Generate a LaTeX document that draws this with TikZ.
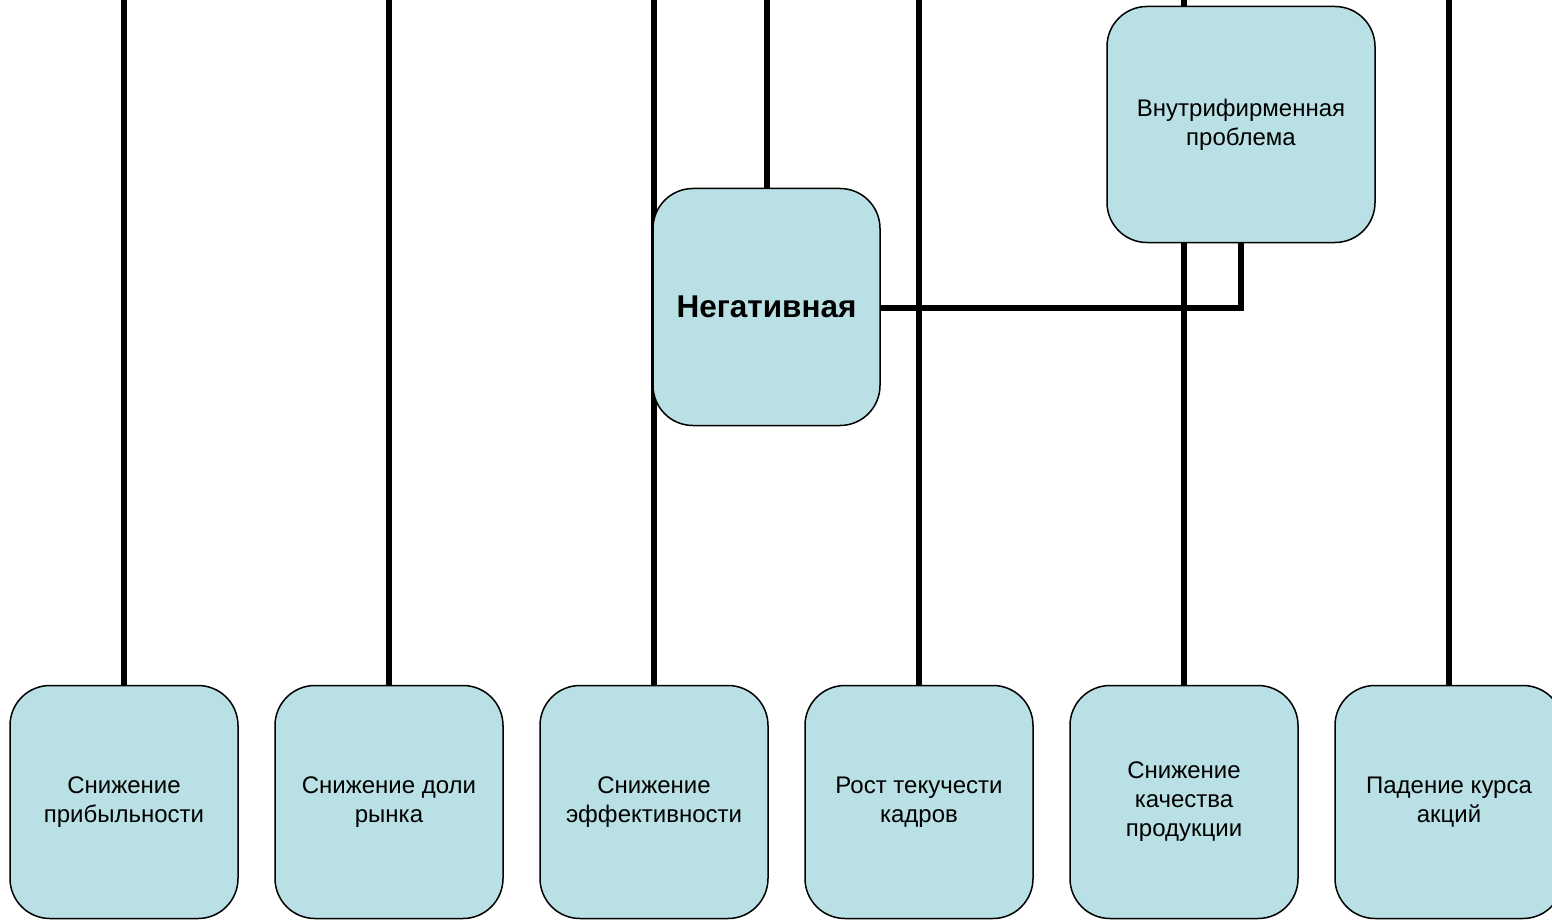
\documentclass[tikz,border=0pt]{standalone}
\usepackage{fontspec}
\setmainfont{Liberation Sans}
\usetikzlibrary{calc}
\usetikzlibrary{positioning}
\pgfdeclarelayer{bg}
\pgfsetlayers{bg,main}
\definecolor{boxfill}{RGB}{185,224,228}

\tikzset{
  rbox/.style = {
    draw, line width=1.5pt, fill=boxfill, rounded corners=40pt,
    align=center, inner sep=0pt, outer sep=0pt,
    font=\fontsize{24}{29}\selectfont,
  },
  effect/.style = {rbox, minimum width=228pt, minimum height=233pt},
  wire/.style = {line width=6pt},
}

\begin{document}
\begin{tikzpicture}[x=1pt, y=-1pt]
        \useasboundingbox (0,0) rectangle (1552,920);

        % the two problem boxes
        \node[rbox, minimum width=227pt, minimum height=237pt,
              font=\fontsize{31.5}{36}\selectfont\bfseries]
          (neg) at (766.5,307) {Негативная};
        \node[rbox, minimum width=268pt, minimum height=236pt]
          (int) at (1241,124.5) {Внутрифирменная\\проблема};

        % the consequences
        \node[effect] (b1) at (124,802)  {Снижение\\прибыльности};
        \node[effect] (b2) at (389,802)  {Снижение доли\\рынка};
        \node[effect] (b3) at (654,802)  {Снижение\\эффективности};
        \node[effect] (b4) at (919,802)  {Рост текучести\\кадров};
        \node[effect] (b5) at (1184,802) {Снижение\\качества\\продукции};
        \node[effect] (b6) at (1449,802) {Падение курса\\акций};

        \coordinate (t0) at (neg.north |- 0,0);
        \foreach \i in {1,...,6}
          \coordinate (t\i) at (b\i.north |- 0,0);

        \begin{pgfonlayer}{bg}
          \begin{scope}[wire]
            \draw (t0) -- (neg.north);
            \foreach \i in {1,...,6}
              \draw (t\i) -- (b\i.north);
            \draw ($(neg.east)+(0,1)$) -| (int.south);
          \end{scope}
        \end{pgfonlayer}
      \end{tikzpicture}
\end{document}
